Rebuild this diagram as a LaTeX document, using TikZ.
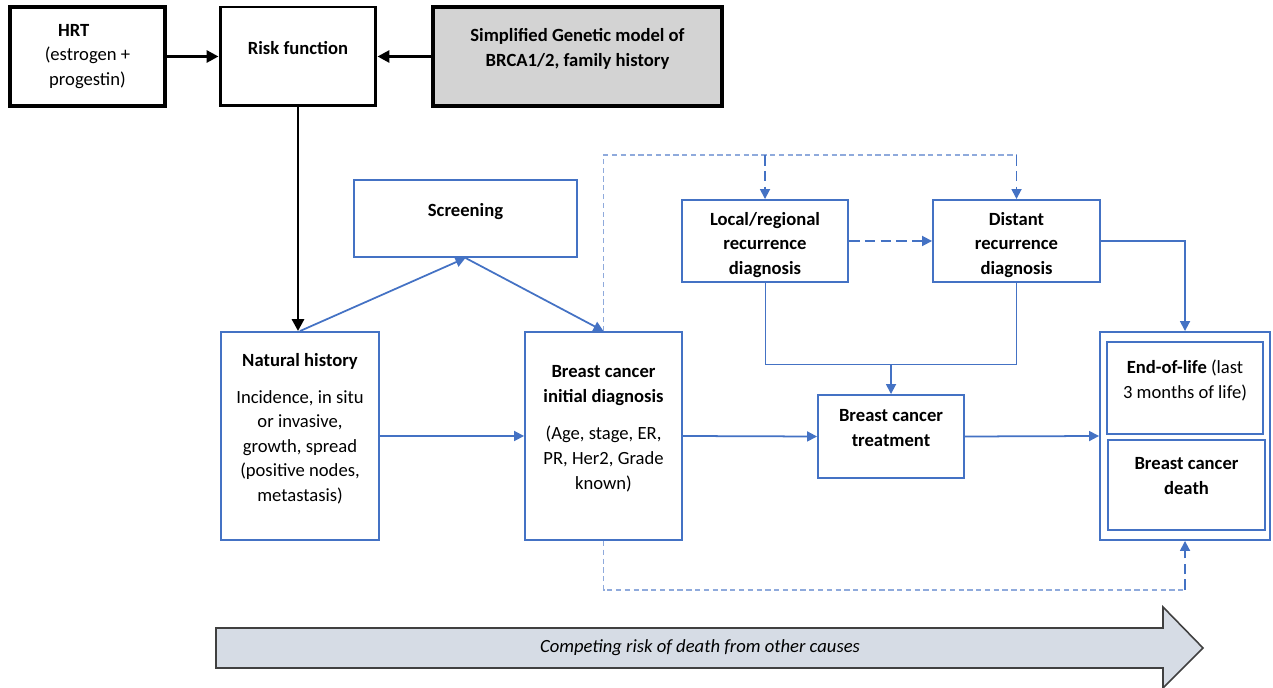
\documentclass[tikz,border=0pt]{standalone}
\usepackage{fontspec}
\setmainfont{Carlito}
\usetikzlibrary{arrows.meta,calc}

\definecolor{boxblue}{HTML}{4472C4}
\definecolor{lightblue}{HTML}{8FAADC}
\definecolor{genegrey}{HTML}{D3D3D3}
\definecolor{arrowfill}{HTML}{D6DCE5}

% extra depth / height to move a node's text up or down
\newcommand{\txtlift}{\rule[-10pt]{0pt}{10pt}}
\newcommand{\txtdrop}{\rule{0pt}{12pt}}

\begin{document}
\begin{tikzpicture}[x=0.02cm, y=-0.02cm,
    every node/.style={font=\fontsize{10.6}{14}\selectfont, align=center, inner sep=0pt},
    blackbox/.style={draw, line width=2.2pt, minimum height=1.98cm},
    bluebox/.style={draw=boxblue, line width=1.1pt},
    blackarrow/.style={line width=1.7pt, -{Triangle[length=2.4mm,width=2.4mm]}},
    bluearrow/.style={draw=boxblue, line width=1pt, -{Triangle[length=2mm,width=2mm]}},
    dasharrow/.style={bluearrow, dash pattern=on 6pt off 3pt},
    lightdash/.style={draw=lightblue, line width=0.8pt, dash pattern=on 3pt off 2pt},
    thinline/.style={draw=boxblue, line width=0.5pt}]

    \useasboundingbox (0,0) rectangle (1273,688);

    % --- top row ---
    \node[blackbox, minimum width=3.1cm] (hrt) at (87.5,56.5)
        {\textbf{HRT}\hspace*{0.55cm}\\(estrogen +\\progestin)};
    \node[blackbox, line width=1.7pt, minimum width=3.12cm] (risk) at (298,56.5)
        {\textbf{Risk function}\txtlift};
    \node[blackbox, fill=genegrey, minimum width=5.78cm] (genetic) at (577.5,56.5)
        {\textbf{Simplified Genetic model of}\\\textbf{BRCA1/2, family history}\txtlift};

    \draw[blackarrow] (hrt.east) -- (risk.west);
    \draw[blackarrow] (genetic.west) -- (risk.east);

    % --- blue boxes ---
    \node[bluebox, minimum width=4.46cm, minimum height=1.54cm] (screen) at (465.5,218.5)
        {\textbf{Screening}\txtlift};
    \node[bluebox, minimum width=3.16cm, minimum height=4.16cm] (natural) at (300,436)
        {\textbf{Natural history}\\[7pt]Incidence, in situ\\or invasive,\\growth, spread\\(positive nodes,\\metastasis)\txtlift};
    \node[bluebox, minimum width=3.14cm, minimum height=4.16cm] (initdiag) at (603.5,436)
        {\textbf{Breast cancer}\\\textbf{initial diagnosis}\\[7.5pt](Age, stage, ER,\\PR, Her2, Grade\\known)\txtlift};
    \node[bluebox, minimum width=2.92cm, minimum height=1.66cm] (treat) at (891,436.5)
        {\textbf{Breast cancer}\\\textbf{treatment}\txtlift};
    \node[bluebox, minimum width=3.32cm, minimum height=1.64cm] (local) at (765,241)
        {\txtdrop\textbf{Local/regional}\\\textbf{recurrence}\\\textbf{diagnosis}};
    \node[bluebox, minimum width=3.34cm, minimum height=1.64cm] (distant) at (1016.5,241)
        {\txtdrop\textbf{Distant}\\\textbf{recurrence}\\\textbf{diagnosis}};
    \node[bluebox, minimum width=3.4cm, minimum height=4.16cm] (endbox) at (1185,436) {};
    \node[bluebox, minimum width=3.12cm, minimum height=1.84cm] (eol) at (1185,388)
        {\textbf{End-of-life} (last\\3 months of life)\txtlift};
    \node[bluebox, minimum width=3.14cm, minimum height=1.8cm] (bcdeath) at (1186.5,485)
        {\textbf{Breast cancer}\\\textbf{death}\txtlift};

    % --- connectors ---
    \draw[blackarrow] (risk.south) -- (risk.south |- natural.north);
    \draw[bluearrow] (natural.north) -- (screen.south);
    \draw[bluearrow] (screen.south) -- (initdiag.north);
    \draw[bluearrow] (natural.east) -- (initdiag.west);
    \draw[bluearrow] (initdiag.east) -- (treat.west);
    \draw[bluearrow] (treat.east) -- (endbox.west);

    \coordinate (join) at ($(treat.north)+(0,-30)$);
    \draw[thinline] (local.south) |- (join) -| (distant.south);
    \draw[bluearrow] (join) -- (treat.north);
    \draw[bluearrow] (distant.east) -| (endbox.north);
    \draw[dasharrow] (local.east) -- (distant.west);

    % --- dashed paths ---
    \coordinate (toprt) at (distant.north |- 0,155);
    \coordinate (botrt) at (endbox.south |- 0,590);
    \draw[lightdash] (initdiag.north) |- (toprt);
    \draw[dasharrow] (local.north |- toprt) -- (local.north);
    \draw[dasharrow] (toprt) -- (distant.north);
    \draw[lightdash] (initdiag.south) |- (botrt);
    \draw[dasharrow] (botrt) -- (endbox.south);

    % --- competing risk arrow ---
    \draw[fill=arrowfill, draw=black!75, line width=0.9pt]
        (216,628) -- (1163,628) -- (1163,607) -- (1203,648) -- (1163,688)
        -- (1163,668) -- (216,668) -- cycle;
    \node (compete) at (700,648) {\textit{Competing risk of death from other causes}};

\end{tikzpicture}
\end{document}
